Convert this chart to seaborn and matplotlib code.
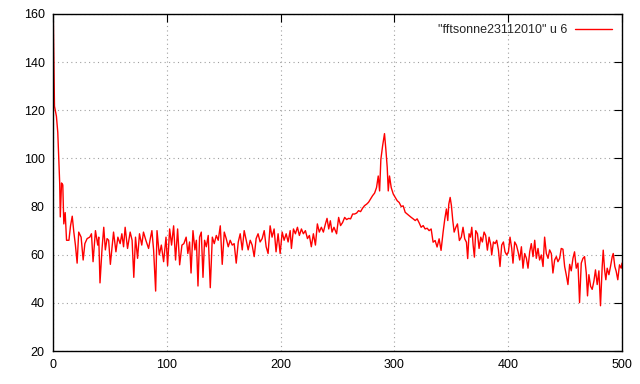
import matplotlib
matplotlib.use("Agg")
import matplotlib.pyplot as plt
import seaborn as sns
import pandas as pd

freq = [0.3, 1.3, 3.0, 4.2, 5.0, 5.9, 6.4, 7.5, 8.6, 9.5, 10.7, 11.9, 14.0, 15.4, 16.9, 18.3, 19.7, 21.2, 22.6, 24.7,
        26.5, 28.0, 30.0, 32.3, 33.8, 35.2, 37.3, 39.3, 40.2, 41.3, 43.1, 44.6, 46.0, 47.5, 48.9, 50.4, 51.8, 53.2, 55.3, 57.0,
        59.0, 60.5, 62.0, 63.4, 65.5, 67.8, 69.5, 71.0, 72.5, 74.3, 76.0, 78.0, 79.5, 81.6, 84.0, 85.5, 86.9, 88.4, 90.2, 91.4,
        93.4, 95.2, 97.2, 99.3, 100.7, 102.5, 104.2, 106.0, 107.7, 109.5, 111.3, 113.3, 115.0, 117.0, 118.5, 120.0, 121.3, 123.0, 124.7, 126.0,
        127.4, 128.8, 130.3, 131.8, 133.2, 134.7, 136.4, 138.2, 140.0, 141.7, 143.5, 145.2, 147.0, 148.7, 150.5, 152.2, 154.0, 155.7, 157.5, 159.2,
        161.0, 162.8, 164.5, 166.3, 168.0, 169.8, 171.5, 173.3, 175.0, 176.8, 178.5, 180.2, 182.0, 183.8, 185.6, 187.3, 189.0, 190.8, 192.5, 194.3,
        196.0, 197.8, 199.6, 201.4, 203.1, 204.9, 206.6, 208.4, 209.5, 211.3, 213.0, 214.8, 216.5, 218.3, 220.0, 221.8, 223.6, 225.3, 227.0, 228.8,
        230.6, 232.3, 234.0, 235.8, 237.6, 239.4, 240.8, 242.3, 243.7, 245.2, 246.9, 249.2, 251.0, 252.7, 254.5, 256.3, 258.0, 259.8, 261.5, 263.3,
        265.0, 266.8, 268.5, 270.3, 272.0, 273.8, 275.6, 277.3, 279.0, 280.8, 282.6, 284.3, 285.8, 287.0, 288.1, 289.6, 291.3, 292.5, 293.7, 294.6,
        295.7, 297.2, 299.0, 300.7, 302.5, 304.2, 306.0, 307.7, 309.5, 311.2, 313.0, 314.8, 316.5, 318.3, 320.0, 321.8, 323.5, 325.3, 327.0, 328.8,
        330.5, 332.3, 334.0, 335.8, 337.5, 339.3, 341.0, 342.8, 344.3, 345.7, 346.9, 347.8, 349.0, 350.1, 351.3, 352.5, 354.0, 355.4, 357.1, 358.8,
        360.3, 361.8, 363.3, 364.4, 365.6, 366.8, 368.0, 369.2, 370.3, 371.5, 373.0, 374.4, 375.9, 377.3, 378.8, 380.2, 381.7, 383.2, 384.7, 385.5,
        387.0, 388.5, 389.9, 391.4, 392.8, 394.3, 395.8, 397.2, 398.7, 400.2, 401.6, 403.1, 404.2, 405.7, 407.2, 408.7, 410.1, 411.6, 413.0, 414.5,
        416.0, 417.4, 418.9, 420.3, 421.8, 423.3, 424.7, 426.2, 427.6, 429.1, 430.6, 432.0, 433.5, 435.0, 436.4, 437.9, 439.3, 440.8, 442.3, 443.7,
        445.2, 446.6, 448.1, 449.6, 451.0, 452.5, 454.0, 455.4, 456.9, 458.3, 459.8, 461.3, 462.7, 464.2, 465.7, 467.1, 468.6, 469.7, 470.9, 472.4,
        473.8, 475.3, 476.7, 478.2, 479.7, 481.1, 482.6, 483.5, 484.7, 485.8, 487.0, 488.5, 489.9, 491.4, 492.3, 493.7, 494.9, 496.3, 497.8, 499.3,
        500.0]

amplitude = [157.0, 121.7, 117.5, 110.8, 100.5, 89.5, 75.7, 89.8, 89.0, 72.8, 77.5, 66.0, 66.0, 72.0, 76.0, 69.4, 64.0, 56.5, 69.4, 67.3,
             57.8, 64.6, 66.7, 67.3, 68.7, 57.1, 70.0, 64.0, 67.3, 48.3, 62.6, 71.4, 62.0, 66.7, 66.0, 56.0, 62.6, 69.4, 61.2, 67.3,
             64.6, 68.7, 63.3, 71.4, 62.6, 69.4, 66.0, 50.6, 67.3, 58.5, 68.7, 64.0, 69.4, 66.0, 62.6, 66.7, 70.0, 62.0, 44.9, 70.0,
             59.9, 64.0, 57.1, 67.3, 55.5, 70.7, 64.0, 72.0, 57.8, 70.7, 55.8, 64.0, 64.6, 67.3, 60.5, 65.3, 52.4, 70.0, 62.0, 66.0,
             47.0, 67.3, 69.4, 50.6, 66.0, 63.3, 68.0, 46.3, 67.3, 64.6, 68.0, 66.0, 72.0, 56.0, 69.4, 66.7, 63.3, 66.0, 64.0, 64.6,
             56.5, 65.3, 68.7, 62.0, 70.0, 66.0, 62.0, 66.0, 64.0, 59.2, 66.7, 68.7, 65.3, 66.7, 70.0, 63.3, 60.5, 72.0, 67.3, 70.7,
             61.2, 68.7, 60.5, 69.4, 66.0, 68.7, 65.3, 70.0, 62.6, 70.7, 68.7, 71.4, 68.0, 70.7, 68.7, 70.0, 66.7, 68.0, 63.3, 68.7,
             64.0, 72.8, 69.4, 71.4, 69.4, 72.8, 75.1, 70.7, 74.1, 69.4, 71.4, 68.7, 75.5, 72.1, 73.4, 75.5, 74.6, 75.1, 74.9, 76.9,
             76.9, 77.3, 78.3, 77.9, 79.3, 80.4, 81.0, 81.8, 83.1, 84.5, 85.6, 87.9, 92.7, 86.5, 99.6, 105.1, 110.3, 103.7, 96.2, 86.5,
             92.7, 87.9, 85.2, 83.8, 82.4, 81.7, 80.0, 80.3, 77.6, 76.9, 76.2, 75.5, 74.9, 74.2, 74.9, 73.2, 71.4, 72.1, 70.7, 71.0,
             70.0, 70.7, 65.2, 65.9, 63.2, 66.6, 61.8, 69.4, 74.9, 79.0, 74.2, 81.0, 83.8, 80.4, 74.2, 69.4, 71.4, 72.8, 65.9, 67.3,
             71.4, 66.6, 65.2, 58.4, 68.7, 67.3, 71.4, 63.9, 59.0, 70.0, 68.7, 62.6, 67.3, 65.3, 69.4, 68.0, 61.9, 67.3, 64.0, 59.9,
             65.3, 64.6, 66.0, 62.0, 55.1, 64.0, 65.3, 61.2, 59.9, 61.2, 67.3, 62.6, 56.5, 65.3, 64.0, 61.2, 57.8, 63.3, 54.4, 60.5,
             58.5, 54.4, 61.2, 64.6, 59.2, 66.0, 58.5, 62.6, 57.8, 59.9, 55.1, 67.3, 60.5, 58.5, 62.0, 60.5, 52.4, 57.8, 59.2, 57.1,
             58.5, 62.6, 62.3, 55.1, 51.7, 47.6, 56.0, 53.3, 58.5, 61.2, 54.4, 56.5, 40.1, 56.5, 58.5, 59.2, 52.4, 42.9, 51.7, 46.9,
             45.6, 49.0, 53.7, 47.6, 53.3, 38.8, 55.1, 61.9, 53.7, 49.6, 54.4, 51.7, 55.1, 59.2, 60.5, 55.1, 53.1, 49.6, 55.8, 54.4,
             56.5]

series_label = '"fftsonne23112010" u 6'
x_ticks = [0, 100, 200, 300, 400, 500]
y_ticks = [20, 40, 60, 80, 100, 120, 140, 160]

df = pd.DataFrame({"x": freq, "y": amplitude})

sns.set_style("white")
plt.rcParams["font.family"] = ["Liberation Sans", "DejaVu Sans"]

fig = plt.figure(figsize=(6.4, 3.84), dpi=100)
ax = fig.add_axes([53 / 640, 1 - 351 / 384, (622 - 53) / 640, (351 - 14) / 384])

sns.lineplot(data=df, x="x", y="y", ax=ax, color="#ff0000", linewidth=1.0,
             estimator=None, sort=False, label=series_label)

ax.set_xlim(0, 500)
ax.set_ylim(20, 160)
ax.set_xticks(x_ticks)
ax.set_yticks(y_ticks)
ax.set_xlabel("")
ax.set_ylabel("")
ax.grid(True, color="#a0a0a0", linestyle=(0, (1, 3)), linewidth=0.8)
ax.tick_params(direction="in", length=6, width=0.8, top=True, right=True,
               labelsize=9, pad=6, colors="black")
for s in ax.spines.values():
    s.set_color("black")
    s.set_linewidth(1.0)

leg = ax.legend(loc="upper right", frameon=False, markerfirst=False,
                handlelength=3.0, fontsize=9, borderaxespad=0.4, handletextpad=0.6)

fig.savefig("out.png", dpi=100)
